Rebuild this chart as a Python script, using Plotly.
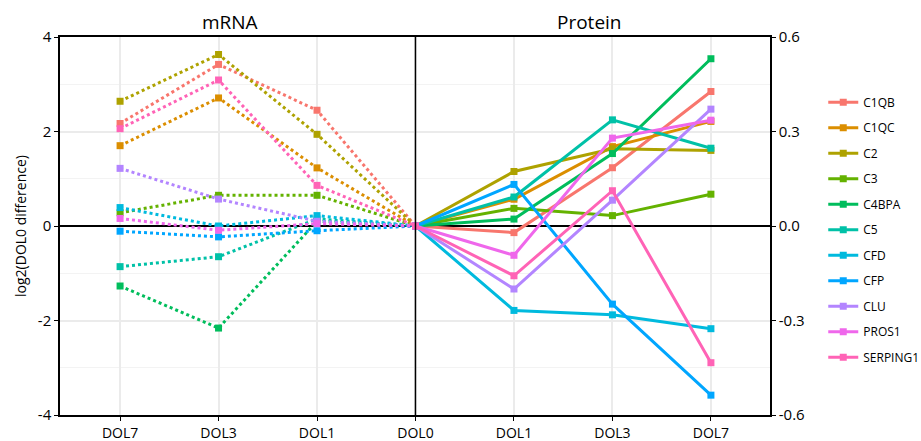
import plotly.graph_objects as go

genes = ["C1QB", "C1QC", "C2", "C3", "C4BPA", "C5", "CFD", "CFP", "CLU", "PROS1", "SERPING1"]
colors = ["#F8766D", "#DB8E00", "#AEA200", "#64B200", "#00BD5C", "#00C1A7",
          "#00BADE", "#00A6FF", "#B385FF", "#EF67EB", "#FF63B6"]

x_labels = ["DOL7", "DOL3", "DOL1", "DOL0", "DOL1", "DOL3", "DOL7"]
mrna_pos = [0, 1, 2, 3]      # DOL7, DOL3, DOL1, DOL0 (left panel)
prot_pos = [3, 4, 5, 6]      # DOL0, DOL1, DOL3, DOL7 (right panel)

y_left_ticks = [-4, -2, 0, 2, 4]
y_left_labels = ["-4", "-2", "0", "2", "4"]
y_right_ticks = [-0.6, -0.3, 0.0, 0.3, 0.6]
y_right_labels = ["-0.6", "-0.3", "0.0", "0.3", "0.6"]

# mRNA log2 difference at DOL7, DOL3, DOL1, DOL0
mrna = {
    "C1QB":     [2.17, 3.42, 2.45, 0],
    "C1QC":     [1.70, 2.71, 1.23, 0],
    "C2":       [2.64, 3.63, 1.94, 0],
    "C3":       [0.28, 0.65, 0.65, 0],
    "C4BPA":    [-1.27, -2.16, 0.10, 0],
    "C5":       [-0.86, -0.65, 0.15, 0],
    "CFD":      [0.39, 0.00, 0.22, 0],
    "CFP":      [-0.11, -0.23, -0.10, 0],
    "CLU":      [1.22, 0.57, 0.10, 0],
    "PROS1":    [0.16, -0.09, 0.05, 0],
    "SERPING1": [2.06, 3.09, 0.86, 0],
}

# Protein log2 difference at DOL0, DOL1, DOL3, DOL7
protein = {
    "C1QB":     [0, -0.021, 0.185, 0.427],
    "C1QC":     [0, 0.085, 0.252, 0.332],
    "C2":       [0, 0.173, 0.245, 0.240],
    "C3":       [0, 0.056, 0.033, 0.101],
    "C4BPA":    [0, 0.022, 0.230, 0.531],
    "C5":       [0, 0.092, 0.337, 0.247],
    "CFD":      [0, -0.268, -0.282, -0.326],
    "CFP":      [0, 0.132, -0.248, -0.537],
    "CLU":      [0, -0.200, 0.082, 0.371],
    "PROS1":    [0, -0.093, 0.279, 0.336],
    "SERPING1": [0, -0.158, 0.112, -0.434],
}

font_family = "Open Sans, Noto Sans, DejaVu Sans, sans-serif"

fig = go.Figure()
for g, c in zip(genes, colors):
    fig.add_trace(go.Scatter(
        x=mrna_pos, y=mrna[g], mode="lines+markers", name=g, legendgroup=g,
        showlegend=False, yaxis="y",
        line=dict(color=c, width=3, dash="dot"),
        marker=dict(symbol="square", size=7, color=c),
    ))
for g, c in zip(genes, colors):
    fig.add_trace(go.Scatter(
        x=prot_pos, y=protein[g], mode="lines+markers", name=g, legendgroup=g,
        showlegend=True, yaxis="y2",
        line=dict(color=c, width=3),
        marker=dict(symbol="square", size=7, color=c),
    ))

fig.add_shape(type="line", xref="x", yref="paper", x0=3, x1=3, y0=0, y1=1,
              line=dict(color="black", width=1.5), layer="above")

fig.add_annotation(text="mRNA", x=1.12, xref="x", y=1, yref="paper",
                   yanchor="bottom", showarrow=False, yshift=0,
                   font=dict(size=19, color="black", family=font_family))
fig.add_annotation(text="Protein", x=4.77, xref="x", y=1, yref="paper",
                   yanchor="bottom", showarrow=False, yshift=0,
                   font=dict(size=19, color="black", family=font_family))

fig.update_layout(
    width=921, height=441,
    margin=dict(l=60, r=151, t=37, b=26, autoexpand=False),
    paper_bgcolor="white", plot_bgcolor="white",
    font=dict(family=font_family, size=14, color="black"),
    showlegend=True,
    legend=dict(x=1.075, xanchor="left", y=0.49, yanchor="middle",
                font=dict(size=12, color="black"), tracegroupgap=6.5,
                bgcolor="rgba(0,0,0,0)"),
    xaxis=dict(range=[-0.61, 6.6], tickmode="array", tickvals=list(range(7)),
               ticktext=x_labels, showgrid=True, gridcolor="#EBEBEB", gridwidth=1.5,
               showline=True, linecolor="black", linewidth=1.5, mirror=True,
               ticks="outside", ticklen=4, tickcolor="black", zeroline=False,
               tickfont=dict(size=14), automargin=False),
    yaxis=dict(range=[-4, 4], tickmode="array", tickvals=y_left_ticks,
               ticktext=y_left_labels, showgrid=True,
               gridcolor="#EBEBEB", gridwidth=1.5,
               minor=dict(dtick=1, showgrid=True, gridcolor="#F3F3F3", gridwidth=1),
               showline=True, linecolor="black", linewidth=1.5,
               ticks="outside", ticklen=4, tickcolor="black",
               zeroline=True, zerolinecolor="black", zerolinewidth=1.5,
               title=dict(text="log2(DOL0 difference)", font=dict(size=14), standoff=8),
               tickfont=dict(size=15), automargin=False),
    yaxis2=dict(range=[-0.6, 0.6], tickmode="array", tickvals=y_right_ticks,
                ticktext=y_right_labels, overlaying="y", side="right", showgrid=False,
                showline=True, linecolor="black", linewidth=1.5,
                ticks="outside", ticklen=4, tickcolor="black", zeroline=False,
                tickfont=dict(size=15), automargin=False),
)

fig.write_html("out.html")
